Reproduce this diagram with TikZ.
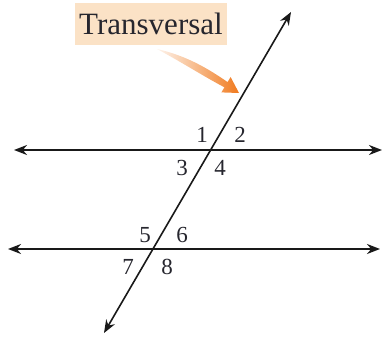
\documentclass[tikz,border=0pt]{standalone}
\usepackage{fontspec}
\setmainfont{Liberation Serif}
\usetikzlibrary{arrows.meta}
\definecolor{peach}{HTML}{FBE2C6}
\definecolor{orng}{HTML}{F07A1E}
\definecolor{inkc}{HTML}{26262E}
\begin{document}
\begin{tikzpicture}[x=1pt,y=-1pt,
  line/.style={draw=black!90, line width=2pt, {Stealth[length=13pt,width=10pt]}-{Stealth[length=13pt,width=10pt]}},
  num/.style={inner sep=0pt, text=inkc, font=\fontsize{23}{23}\selectfont}]
\useasboundingbox (0,0) rectangle (383,337);
% endpoints
\coordinate (L1a) at (14,150);
\coordinate (L1b) at (382,150);
\coordinate (L2a) at (8,249);
\coordinate (L2b) at (380,249);
\coordinate (Ta) at (104,333);
\coordinate (Tb) at (291,12);
\draw[line] (L1a) -- (L1b);
\draw[line] (L2a) -- (L2b);
\draw[line, line width=1.6pt] (Ta) -- (Tb);
% label
\node[fill=peach, minimum width=152pt, minimum height=42pt, inner sep=0pt, text=inkc,
  font=\fontsize{31}{31}\selectfont] (lab) at (151,24) {Transversal};
% orange arrow
\shade[left color=orng!8, right color=orng, draw=none]
  (157,49) .. controls (188,56) and (210,70) .. (227.6,82.1)
  -- (230.6,77.0) -- (239,93) -- (221.4,92.4) -- (224.4,87.3)
  .. controls (203,76) and (183,63) .. (157,49) -- cycle;
% numbers
\node[num] (n1) at (202,135) {1};
\node[num] (n2) at (240,135) {2};
\node[num] (n3) at (182,168) {3};
\node[num] (n4) at (220,168) {4};
\node[num] (n5) at (145,235) {5};
\node[num] (n6) at (182,235) {6};
\node[num] (n7) at (128,267) {7};
\node[num] (n8) at (167,267) {8};
\end{tikzpicture}
\end{document}
